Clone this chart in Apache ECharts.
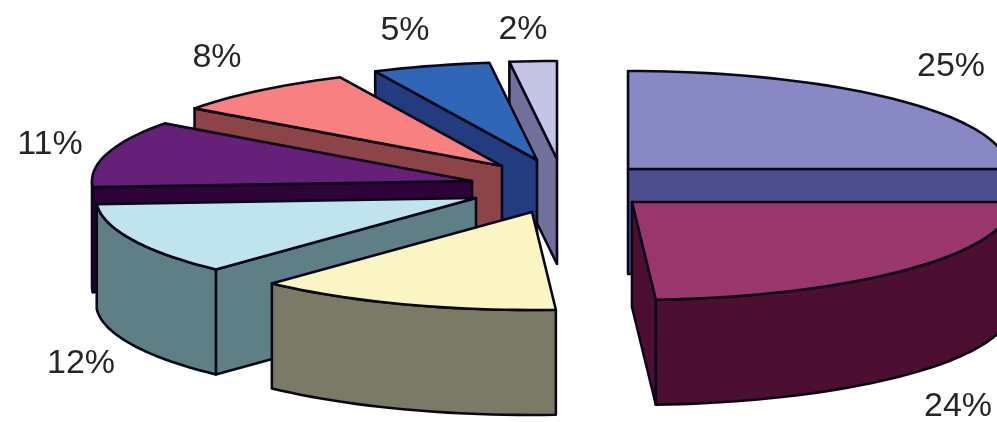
<!DOCTYPE html>
<html>
<head>
<meta charset="utf-8">
<style>html,body{margin:0;padding:0;background:#fff}#c{width:997px;height:422px}</style>
<script src="https://cdn.jsdelivr.net/npm/echarts@6/dist/echarts.min.js"></script>
</head>
<body>
<div id="c"></div>
<script>
// Data: clockwise from twelve o'clock
const shares = [25, 24, 13, 12, 11, 8, 5, 2];
const labels = ['25%', '24%', '', '12%', '11%', '8%', '5%', '2%'];

// Styles
const topColors  = ['#8888c4', '#99366b', '#fbf5c4', '#c0e4ee', '#66207a', '#f88080', '#2f66b8', '#c4c4e4'];
const wallColors = ['#4e4e8e', '#4d0f31', '#7a7a66', '#5f7f86', '#2e0438', '#8c4448', '#233c80', '#70709a'];

// Layout of the exploded, tilted pie (slice apex and label anchors)
const apexX  = [628, 632, 532, 476, 472, 502, 537, 557];
const apexY  = [169, 202, 212, 198, 181, 166, 160, 159];
const labelX = [951, 958, 0, 81, 50, 217, 405, 523];
const labelY = [67, 407, 0, 364, 145, 58, 31, 30];
const radiusX = 380, radiusY = 98, depth = 105;

const total = shares.reduce((a, b) => a + b, 0);
const startAngles = [];
shares.reduce((acc, v, i) => { startAngles[i] = acc / total * 360; return acc + v; }, 0);

// Paint back-to-front
const paintOrder = shares.map((_, i) => i).sort((a, b) => apexY[a] - apexY[b]);

const rad = d => d * Math.PI / 180;
function rim(cx, cy, deg, dy) {
  return [cx + radiusX * Math.sin(rad(deg)), cy - radiusY * Math.cos(rad(deg)) + (dy || 0)];
}
function arc(cx, cy, a, b, dy) {
  const pts = [], n = Math.max(2, Math.ceil((b - a) / 2));
  for (let k = 0; k <= n; k++) pts.push(rim(cx, cy, a + (b - a) * k / n, dy));
  return pts;
}
const lineStyle = { stroke: '#0b0718', lineWidth: 2.6, lineJoin: 'round' };

function renderSlice(params, api) {
  const i = api.value(1);
  const a = startAngles[i], b = a + api.value(0) / total * 360;
  const cx = apexX[i], cy = apexY[i];
  const children = [];
  const wall = pts => children.push({
    type: 'polygon', shape: { points: pts },
    style: Object.assign({ fill: wallColors[i] }, lineStyle)
  });
  const radial = deg => {
    const r = rim(cx, cy, deg), r2 = rim(cx, cy, deg, depth);
    wall([[cx, cy], r, r2, [cx, cy + depth]]);
  };
  if (-Math.cos(rad(a - 90)) > 0.001) radial(a);
  if (-Math.cos(rad(b + 90)) > 0.001) radial(b);
  const fa = Math.max(a, 90), fb = Math.min(b, 270);
  if (fb > fa) {
    wall(arc(cx, cy, fa, fb).concat(arc(cx, cy, fa, fb, depth).reverse()));
  }
  children.push({
    type: 'polygon',
    shape: { points: [[cx, cy]].concat(arc(cx, cy, a, b)) },
    style: Object.assign({ fill: topColors[i] }, lineStyle)
  });
  if (labels[i]) {
    children.push({
      type: 'text', z2: 100,
      style: {
        x: labelX[i], y: labelY[i], text: labels[i], fill: '#262626',
        font: '34px "Liberation Sans", Arial, sans-serif',
        textAlign: 'center', textVerticalAlign: 'middle'
      }
    });
  }
  return { type: 'group', children };
}

const chart = echarts.init(document.getElementById('c'), null, { renderer: 'canvas', width: 997, height: 422 });
chart.setOption({
  backgroundColor: '#ffffff',
  animation: false,
  series: [{
    type: 'custom',
    coordinateSystem: 'none',
    renderItem: renderSlice,
    data: paintOrder.map(i => [shares[i], i])
  }]
});
</script>
</body>
</html>
